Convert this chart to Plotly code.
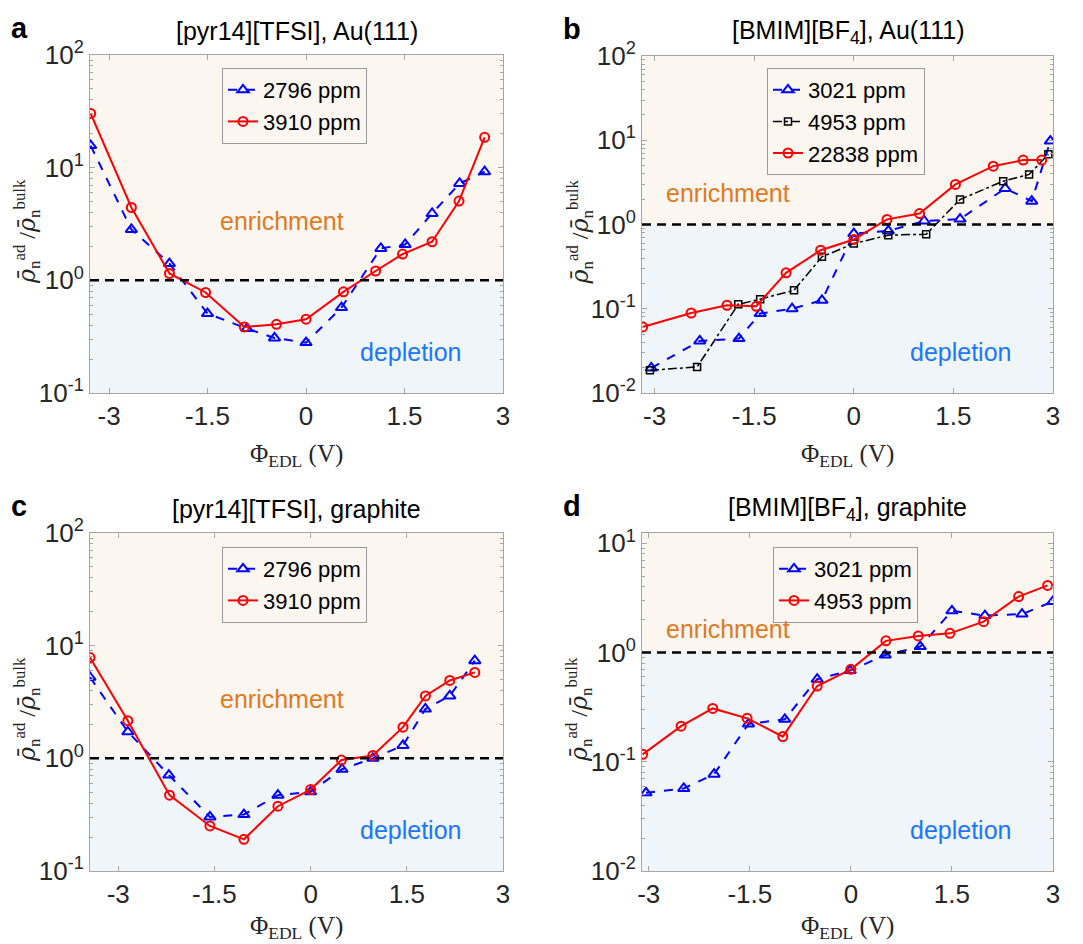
import plotly.graph_objects as go

# ---------------- data ----------------
# Panel a: [pyr14][TFSI], Au(111)
a_x_2796 = [-3.28, -2.66, -2.08, -1.50, -0.90, -0.48, 0.00, 0.54, 1.14, 1.51, 1.92, 2.34, 2.72]
a_y_2796 = [15.7, 2.83, 1.41, 0.507, 0.373, 0.308, 0.28, 0.573, 1.92, 2.08, 3.92, 7.24, 9.2]
a_x_3910 = [-3.28, -2.66, -2.08, -1.53, -0.94, -0.45, 0.00, 0.57, 1.06, 1.47, 1.92, 2.33, 2.72]
a_y_3910 = [30.3, 4.43, 1.15, 0.78, 0.386, 0.407, 0.452, 0.79, 1.21, 1.71, 2.2, 5.05, 18.6]

# Panel b: [BMIM][BF4], Au(111)
b_x_3021 = [-3.05, -2.32, -1.73, -1.41, -0.93, -0.48, 0.00, 0.52, 1.06, 1.60, 2.28, 2.68, 2.96]
b_y_3021 = [0.0198, 0.0415, 0.0443, 0.0877, 0.100, 0.126, 0.78, 0.84, 1.10, 1.16, 2.68, 1.89, 9.77]
b_x_4953 = [-3.07, -2.36, -1.74, -1.41, -0.90, -0.48, 0.00, 0.52, 1.09, 1.60, 2.25, 2.64, 2.93]
b_y_4953 = [0.0186, 0.0204, 0.113, 0.130, 0.166, 0.413, 0.594, 0.747, 0.767, 1.98, 3.27, 3.93, 6.8]
b_x_22838 = [-3.18, -2.45, -1.91, -1.47, -1.02, -0.50, 0.00, 0.50, 0.99, 1.53, 2.10, 2.55, 2.83]
b_y_22838 = [0.0608, 0.089, 0.110, 0.107, 0.267, 0.495, 0.664, 1.15, 1.35, 2.99, 4.93, 5.81, 5.81]

# Panel c: [pyr14][TFSI], graphite
c_x_2796 = [-3.44, -2.85, -2.21, -1.57, -1.04, -0.51, 0.00, 0.49, 0.97, 1.44, 1.79, 2.17, 2.56]
c_y_2796 = [5.24, 1.72, 0.71, 0.302, 0.317, 0.471, 0.504, 0.80, 1.00, 1.30, 2.74, 3.58, 7.36]
c_x_3910 = [-3.44, -2.85, -2.20, -1.57, -1.04, -0.51, 0.00, 0.48, 0.97, 1.44, 1.79, 2.17, 2.56]
c_y_3910 = [7.84, 2.16, 0.471, 0.251, 0.191, 0.376, 0.528, 0.966, 1.06, 1.89, 3.58, 4.91, 5.79]

# Panel d: [BMIM][BF4], graphite
d_x_3021 = [-3.04, -2.48, -2.03, -1.52, -0.98, -0.50, -0.01, 0.51, 1.03, 1.50, 1.99, 2.54, 3.00]
d_y_3021 = [0.052, 0.057, 0.077, 0.222, 0.245, 0.57, 0.684, 0.95, 1.135, 2.41, 2.18, 2.25, 2.94]
d_x_4953 = [-3.09, -2.52, -2.05, -1.54, -1.01, -0.50, 0.00, 0.52, 1.00, 1.47, 1.97, 2.49, 2.92]
d_y_4953 = [0.117, 0.212, 0.308, 0.25, 0.170, 0.494, 0.703, 1.28, 1.42, 1.50, 1.92, 3.26, 4.12]

titles = ["[pyr14][TFSI], Au(111)", "[BMIM][BF<sub>4</sub>], Au(111)",
          "[pyr14][TFSI], graphite", "[BMIM][BF<sub>4</sub>], graphite"]
letters = ["a", "b", "c", "d"]
x_ticks = [-3, -1.5, 0, 1.5, 3]
x_ticktext = ["-3", "-1.5", "0", "1.5", "3"]

# ---------------- styling ----------------
W, H = 1083, 944
SANS = "Liberation Sans, Arial, sans-serif"
SERIF = "Liberation Serif, Times New Roman, serif"
PEACH = "#FBF6F0"
LBLUE = "#F0F5F9"
FRAME = "#A6A6A6"
TXT = "#262626"

# plot boxes in pixels (left, right, top, bottom)
boxes = [(90, 503, 55, 393), (642, 1053, 56, 393),
         (90, 503, 533, 871), (642, 1053, 533, 871)]
x_ranges = [[-3.29, 3.0], [-3.19, 3.0], [-3.44, 3.0], [-3.10, 3.0]]
y_ranges = [[-1, 2], [-2, 2], [-1, 2], [-2, 1.095]]
xtitle_off = [62, 62, 56, 56]

def px(xp):
    return xp / W

def py(yp):
    return 1 - yp / H

series = [
    [("2796 ppm", a_x_2796, a_y_2796, "blue"), ("3910 ppm", a_x_3910, a_y_3910, "red")],
    [("3021 ppm", b_x_3021, b_y_3021, "blue"), ("4953 ppm", b_x_4953, b_y_4953, "black"),
     ("22838 ppm", b_x_22838, b_y_22838, "red")],
    [("2796 ppm", c_x_2796, c_y_2796, "blue"), ("3910 ppm", c_x_3910, c_y_3910, "red")],
    [("3021 ppm", d_x_3021, d_y_3021, "blue"), ("4953 ppm", d_x_4953, d_y_4953, "red")],
]

styles = {
    "blue": dict(line=dict(color="#0000FF", width=2, dash="dash"),
                 marker=dict(symbol="triangle-up-open", size=10, color="#0000FF",
                             line=dict(width=2, color="#0000FF"))),
    "red": dict(line=dict(color="#FF0000", width=2),
                marker=dict(symbol="circle-open", size=9, color="#FF0000",
                            line=dict(width=2, color="#FF0000"))),
    "black": dict(line=dict(color="#000000", width=1.5, dash="dashdot"),
                  marker=dict(symbol="square-open", size=7, color="#000000",
                              line=dict(width=1.5, color="#000000"))),
}

legend_pos = [(222, 68), (767, 68), (222, 547), (773, 547)]
enrich_pos = [(0.465, 0.509), (0.21, 0.593), (0.465, 0.508), (0.21, 0.715)]
deplete_pos = [(0.775, 0.121), (0.774, 0.122), (0.775, 0.122), (0.774, 0.122)]

fig = go.Figure()
layout = dict(width=W, height=H, margin=dict(l=0, r=0, t=0, b=0, autoexpand=False),
              template="none",
              paper_bgcolor="white", plot_bgcolor="white", showlegend=True)
shapes = []
annotations = []

for i in range(4):
    n = "" if i == 0 else str(i + 1)
    xa, ya = "x" + n, "y" + n
    lg = "legend" if i == 0 else "legend" + str(i + 1)
    for name, xs, ys, col in series[i]:
        st = styles[col]
        fig.add_trace(go.Scatter(x=xs, y=ys, mode="lines+markers", name=name,
                                 xaxis=xa, yaxis=ya, legend=lg,
                                 line=st["line"], marker=st["marker"]))
    l, r, t, b = boxes[i]
    lo, hi = y_ranges[i]
    minor_vals = []
    for e in range(int(lo) - 1, int(hi) + 1):
        for m in range(2, 10):
            minor_vals.append(m * 10 ** e)
    exps = list(range(int(round(lo)), int(hi) + 1))
    major_vals = [10 ** e for e in exps]
    major_text = ["10<sup>%d</sup>" % e for e in exps]
    layout["xaxis" + n] = dict(
        domain=[px(l), px(r)], anchor=ya, range=x_ranges[i], automargin=False,
        tickvals=x_ticks, ticktext=x_ticktext, ticks="inside", ticklen=5,
        tickcolor=FRAME, showline=True, linecolor=FRAME, linewidth=1, mirror="ticks",
        showgrid=False, zeroline=False,
        tickfont=dict(family=SANS, size=26, color=TXT))
    layout["yaxis" + n] = dict(
        domain=[py(b), py(t)], anchor=xa, type="log", range=[lo, hi], automargin=False,
        tickvals=major_vals, ticktext=major_text, ticks="inside", ticklen=5,
        tickcolor=FRAME, showline=True, linecolor=FRAME, linewidth=1, mirror="ticks",
        showgrid=False, zeroline=False,
        minor=dict(tickvals=minor_vals, ticks="inside", ticklen=3, tickcolor=FRAME,
                   showgrid=False),
        tickfont=dict(family=SANS, size=26, color=TXT))
    frac1 = (0 - lo) / (hi - lo)
    xd, yd = xa + " domain", ya + " domain"
    shapes.append(dict(type="rect", xref=xd, yref=yd, x0=0, x1=1, y0=frac1, y1=1,
                       fillcolor=PEACH, line=dict(width=0), layer="below"))
    shapes.append(dict(type="rect", xref=xd, yref=yd, x0=0, x1=1, y0=0, y1=frac1,
                       fillcolor=LBLUE, line=dict(width=0), layer="below"))
    shapes.append(dict(type="line", xref=xd, yref=yd, x0=0, x1=1, y0=frac1, y1=frac1,
                       line=dict(color="black", width=2.5, dash="9px,6px"), layer="above"))
    lx, ly = legend_pos[i]
    layout[lg] = dict(x=px(lx), y=py(ly), xanchor="left", yanchor="top",
                      bgcolor=PEACH, bordercolor="#9A9A9A", borderwidth=1,
                      font=dict(family=SANS, size=22, color="black"),
                      tracegroupgap=0, itemwidth=30)
    # texts
    ex, ey = enrich_pos[i]
    annotations.append(dict(text="enrichment", xref=xd, yref=yd, x=ex, y=ey,
                            xanchor="center", yanchor="middle", showarrow=False,
                            font=dict(family=SANS, size=25, color="#E07A1F")))
    dx, dy = deplete_pos[i]
    annotations.append(dict(text="depletion", xref=xd, yref=yd, x=dx, y=dy,
                            xanchor="center", yanchor="middle", showarrow=False,
                            font=dict(family=SANS, size=25, color="#1A75FF")))
    cx = (l + r) / 2
    annotations.append(dict(text=titles[i], xref="paper", yref="paper", x=px(cx),
                            y=py(t - 24), xanchor="center", yanchor="middle", showarrow=False,
                            font=dict(family=SANS, size=25, color="black")))
    annotations.append(dict(text="<b>%s</b>" % letters[i], xref="paper", yref="paper",
                            x=px(l - 81), y=py(t - 27), xanchor="left", yanchor="middle",
                            showarrow=False,
                            font=dict(family=SANS, size=29, color="black")))
    annotations.append(dict(text="Φ<sub>EDL</sub> (V)", xref="paper", yref="paper",
                            x=px(cx), y=py(b + xtitle_off[i]), xanchor="center", yanchor="middle",
                            showarrow=False,
                            font=dict(family=SERIF, size=25, color=TXT)))
    annotations.append(dict(text="<span style='font-family:DejaVu Serif'><i>ρ̄</i></span><sub>n</sub><sup>ad</sup> /"
                                 "<span style='font-family:DejaVu Serif'><i>ρ̄</i></span><sub>n</sub><sup>bulk</sup>",
                            xref="paper", yref="paper", x=px(l - 63), y=py((t + b) / 2 + 8),
                            xanchor="center", yanchor="middle",
                            textangle=-90, showarrow=False,
                            font=dict(family=SERIF, size=24, color=TXT)))

layout["shapes"] = shapes
layout["annotations"] = annotations
fig.update_layout(**layout)
fig.write_html("out.html")
